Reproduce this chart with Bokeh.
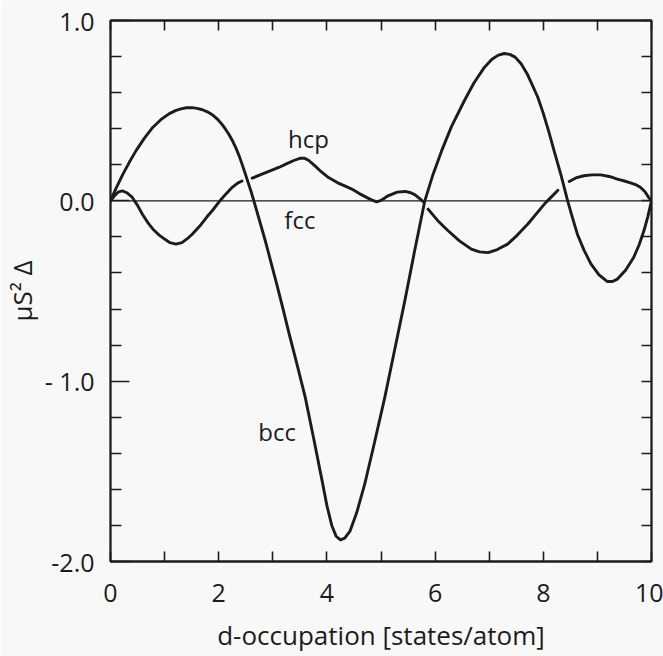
import numpy as np
from bokeh.plotting import figure
from bokeh.models import Range1d, FixedTicker, LinearAxis
from bokeh.core.properties import value
from bokeh.embed import file_html
from bokeh.resources import INLINE

# ---- data ----
bcc_x = [0.00, 0.10, 0.23, 0.35, 0.47, 0.62, 0.78, 0.93, 1.08, 1.20, 1.30, 1.40, 1.51, 1.60, 1.70,
         1.80, 1.88, 1.97, 2.05, 2.12, 2.19, 2.26, 2.32, 2.38, 2.43, 2.49, 2.54, 2.60, 2.65,
         2.75, 2.86, 2.97, 3.08, 3.19, 3.30, 3.45, 3.60, 3.75, 3.91, 4.00, 4.09, 4.17, 4.25,
         4.33, 4.43, 4.55, 4.70, 4.88, 5.07, 5.25, 5.44, 5.62, 5.81,
         5.96, 6.12, 6.30, 6.54, 6.72, 6.91, 7.05, 7.17, 7.28, 7.38, 7.48, 7.59, 7.70, 7.80,
         7.90, 8.00, 8.10, 8.20, 8.33, 8.45,
         8.54, 8.63, 8.75, 8.88, 9.03, 9.18, 9.28, 9.37, 9.52, 9.67, 9.77, 9.86, 9.93, 10.0]
bcc_y = [0.000, 0.068, 0.148, 0.215, 0.277, 0.345, 0.407, 0.450, 0.482, 0.500, 0.510, 0.516, 0.517, 0.513, 0.505,
         0.492, 0.478, 0.455, 0.428, 0.400, 0.368, 0.330, 0.292, 0.248, 0.205, 0.152, 0.105, 0.050, 0.000,
         -0.105, -0.220, -0.345, -0.470, -0.600, -0.735, -0.910, -1.090, -1.310, -1.550, -1.690, -1.800, -1.860, -1.880,
         -1.870, -1.830, -1.730, -1.570, -1.340, -1.090, -0.830, -0.555, -0.280, 0.000,
         0.145, 0.277, 0.410, 0.555, 0.655, 0.740, 0.785, 0.808, 0.817, 0.812, 0.797, 0.760, 0.705, 0.640,
         0.573, 0.485, 0.385, 0.277, 0.140, 0.000,
         -0.095, -0.185, -0.272, -0.350, -0.410, -0.447, -0.447, -0.434, -0.385, -0.314, -0.245, -0.166, -0.090, 0.000]

# hcp (relative to fcc); NaN marks the breaks where the curve passes under bcc
hcp_x = [0.00, 0.08, 0.15, 0.22, 0.30, 0.40, 0.50, 0.59, 0.70, 0.80, 0.90, 1.00, 1.10, 1.21, 1.32,
         1.42, 1.51, 1.65, 1.78, 1.88, 2.00, 2.13, 2.25, 2.35, 2.43, np.nan,
         2.62, 2.80, 2.95, 3.11, 3.25, 3.40, 3.50, 3.58, 3.66, 3.78, 3.90, 4.03, 4.20, 4.35, 4.46,
         4.60, 4.76, 4.85, 4.92, 5.00, 5.13, 5.30, 5.45, 5.55, 5.63, 5.71, 5.78, np.nan,
         5.87, 6.05, 6.24, 6.45, 6.67, 6.82, 6.98, 7.15, 7.34, 7.52, 7.71, 7.87, 8.02, 8.15, 8.27, np.nan,
         8.48, 8.60, 8.75, 8.90, 9.06, 9.22, 9.37, 9.50, 9.61, 9.72, 9.80, 9.88, 9.95, 10.0]
hcp_y = [0.000, 0.030, 0.050, 0.055, 0.045, 0.020, -0.025, -0.074, -0.125, -0.162, -0.190, -0.212, -0.232, -0.240, -0.232,
         -0.210, -0.185, -0.140, -0.090, -0.055, -0.008, 0.037, 0.075, 0.098, 0.110, np.nan,
         0.126, 0.148, 0.166, 0.185, 0.205, 0.225, 0.236, 0.237, 0.225, 0.194, 0.160, 0.129, 0.100, 0.080, 0.065,
         0.040, 0.015, 0.002, -0.006, 0.002, 0.028, 0.048, 0.052, 0.045, 0.033, 0.014, -0.004, np.nan,
         -0.046, -0.110, -0.166, -0.222, -0.268, -0.283, -0.287, -0.270, -0.240, -0.190, -0.130, -0.072, -0.018, 0.022, 0.059, np.nan,
         0.107, 0.127, 0.139, 0.144, 0.144, 0.135, 0.120, 0.110, 0.100, 0.088, 0.074, 0.050, 0.018, 0.000]

fcc_x = [0.0, 10.0]
fcc_y = [0.0, 0.0]

x_major = [0, 2, 4, 6, 8, 10]
x_minor = [1, 3, 5, 7, 9]
y_major = [-2.0, -1.0, 0.0, 1.0]
y_minor = [-1.8, -1.6, -1.4, -1.2, -0.8, -0.6, -0.4, -0.2, 0.2, 0.4, 0.6, 0.8]
y_labels = {-2.0: "-2.0", -1.0: "- 1.0", 0.0: "0.0", 1.0: "1.0"}

FONT = "Open Sans"
INK = "#1c1c1c"
BG = "#f8f8f8"

p = figure(width=663, height=656, x_range=Range1d(0, 10), y_range=Range1d(-2, 1),
           output_backend="svg", toolbar_location=None,
           min_border_left=108, min_border_right=12, min_border_top=20, min_border_bottom=95,
           background_fill_color=BG, border_fill_color=BG)
p.xgrid.visible = False
p.ygrid.visible = False
p.outline_line_color = INK
p.outline_line_width = 1.8

# bottom axis
xa = p.xaxis[0]
xa.ticker = FixedTicker(ticks=x_major, minor_ticks=x_minor)
xa.major_tick_in = 10
xa.major_tick_out = 0
xa.minor_tick_in = 10
xa.minor_tick_out = 0
xa.axis_label = "d-occupation [states/atom]"
xa.major_label_standoff = 22
xa.axis_label_standoff = 12

# left axis
ya = p.yaxis[0]
ya.ticker = FixedTicker(ticks=y_major, minor_ticks=y_minor)
ya.major_label_overrides = y_labels
ya.major_tick_in = 19
ya.major_tick_out = 0
ya.minor_tick_in = 11
ya.minor_tick_out = 0
ya.axis_label = "μS² Δ"
ya.major_label_standoff = 16
ya.axis_label_standoff = 2

# top and right axes: ticks only (all ticks as minor ticks, so no labels are drawn)
top = LinearAxis(ticker=FixedTicker(ticks=[], minor_ticks=x_major + x_minor))
right = LinearAxis(ticker=FixedTicker(ticks=[], minor_ticks=y_major + y_minor))
for ax in (top, right):
    ax.major_label_standoff = 0
    ax.major_tick_in = 10
    ax.major_tick_out = 0
    ax.minor_tick_in = 10
    ax.minor_tick_out = 0
p.add_layout(top, "above")
p.add_layout(right, "right")

for ax in (xa, ya, top, right):
    ax.axis_line_color = INK
    ax.axis_line_width = 1.8
    ax.major_tick_line_color = INK
    ax.minor_tick_line_color = INK
    ax.major_tick_line_width = 1.6
    ax.minor_tick_line_width = 1.6
for ax in (xa, ya):
    ax.major_label_text_font = FONT
    ax.major_label_text_font_size = "25px"
    ax.major_label_text_color = INK
    ax.axis_label_text_font = FONT
    ax.axis_label_text_font_size = "26px"
    ax.axis_label_text_font_style = "normal"
    ax.axis_label_text_color = INK

# curves
p.line(fcc_x, fcc_y, line_color=INK, line_width=1.4)
p.line(bcc_x, bcc_y, line_color=INK, line_width=2.9, line_join="round", line_cap="round")
p.line(hcp_x, hcp_y, line_color=INK, line_width=2.9, line_join="round", line_cap="round")

# curve labels
p.text(x=[3.66], y=[0.344], text=["hcp"], text_align="center", text_baseline="middle",
       text_font=value(FONT), text_font_size="24px", text_color=INK)
p.text(x=[3.50], y=[-0.105], text=["fcc"], text_align="center", text_baseline="middle",
       text_font=value(FONT), text_font_size="24px", text_color=INK)
p.text(x=[3.08], y=[-1.28], text=["bcc"], text_align="center", text_baseline="middle",
       text_font=value(FONT), text_font_size="24px", text_color=INK)

open("out.html", "w").write(file_html(p, INLINE))
